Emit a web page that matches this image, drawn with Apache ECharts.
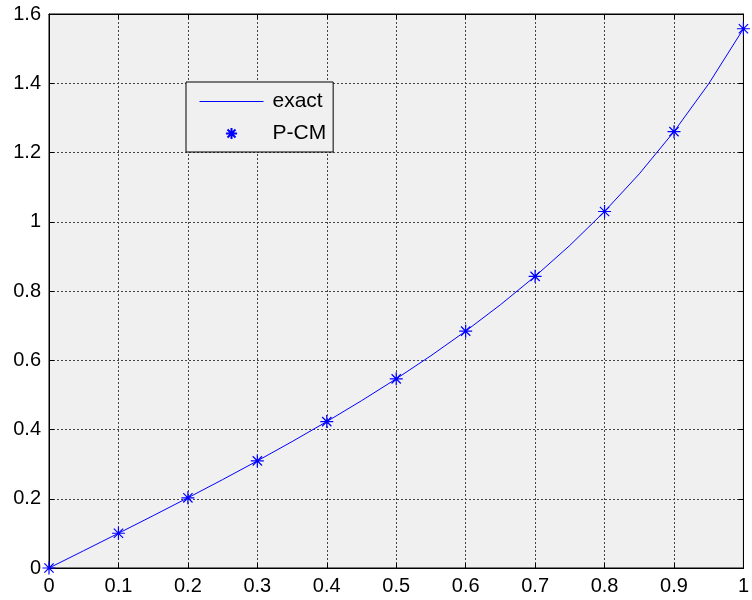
<!DOCTYPE html>
<html>
<head>
<meta charset="utf-8">
<script src="https://cdn.jsdelivr.net/npm/echarts@6/dist/echarts.min.js"></script>
<style>
  html, body { margin: 0; padding: 0; background: #fff; }
  #chart { width: 752px; height: 600px; }
</style>
</head>
<body>
<div id="chart"></div>
<script>
// curve samples (x, y)
var lineX = [0, 0.05, 0.1, 0.15, 0.2, 0.25, 0.3, 0.35, 0.4, 0.45, 0.5, 0.55, 0.6, 0.65, 0.7, 0.75, 0.8, 0.85, 0.9, 0.95, 1];
var exactY = [0, 0.0500, 0.1003, 0.1511, 0.2027, 0.2553, 0.3093, 0.3650, 0.4228, 0.4831, 0.5463, 0.6131, 0.6841, 0.7602, 0.8423, 0.9316, 1.0296, 1.1383, 1.2602, 1.3984, 1.5574];
// markers
var pcmX = [0, 0.1, 0.2, 0.3, 0.4, 0.5, 0.6, 0.7, 0.8, 0.9, 1];
var pcmY = [0, 0.1003, 0.2027, 0.3093, 0.4228, 0.5463, 0.6841, 0.8423, 1.0296, 1.2602, 1.5574];

var star = 'path://M7 0L7 14M0 7L14 7M2 2L12 12M2 12L12 2';
var font = 'Arial, "Liberation Sans", sans-serif';
var blue = '#0000ff';

var chart = echarts.init(document.getElementById('chart'));

function zip(a, b) {
    return a.map(function (v, i) { return [v, b[i]]; });
}

function lbl(v) {
    return String(Math.round(v * 10) / 10);
}

var gridLine = { show: true, lineStyle: { color: '#444', type: [2, 2], width: 1 } };
var ticks = { show: true, inside: true, length: 5, lineStyle: { color: '#000' } };
var axisLine = { show: true, onZero: false, lineStyle: { color: '#000', width: 1 } };

chart.setOption({
    animation: false,
    backgroundColor: '#fff',
    grid: {
        left: 49, right: 1, top: 14, bottom: 32,
        show: true, backgroundColor: '#f0f0f0', borderColor: '#000', borderWidth: 1
    },
    legend: {
        orient: 'vertical',
        left: 186, top: 82,
        padding: [9, 7, 8, 13],
        itemWidth: 64, itemHeight: 14, itemGap: 11,
        backgroundColor: '#f0f0f0',
        borderColor: '#000', borderWidth: 1,
        textStyle: { fontFamily: font, fontSize: 21, color: '#000', padding: [0, 0, 0, 4] },
        data: [
            // line only: hide the dot the line icon puts in its middle
            { name: 'exact', itemStyle: { opacity: 0 }, lineStyle: { width: 1, color: blue } },
            { name: 'P-CM' }
        ]
    },
    xAxis: [{
        type: 'value', min: 0, max: 1, interval: 0.1,
        axisLine: axisLine, axisTick: ticks, splitLine: gridLine,
        axisLabel: { fontFamily: font, fontSize: 20, color: '#000', margin: 8, formatter: lbl }
    }, {
        type: 'value', min: 0, max: 1, interval: 0.1, position: 'top',
        axisLine: axisLine, axisTick: ticks, splitLine: { show: false }, axisLabel: { show: false }
    }],
    yAxis: [{
        type: 'value', min: 0, max: 1.6, interval: 0.2,
        axisLine: axisLine, axisTick: ticks, splitLine: gridLine,
        axisLabel: { fontFamily: font, fontSize: 20, color: '#000', margin: 8, formatter: lbl }
    }, {
        type: 'value', min: 0, max: 1.6, interval: 0.2, position: 'right',
        axisLine: axisLine, axisTick: ticks, splitLine: { show: false }, axisLabel: { show: false }
    }],
    series: [{
        name: 'exact',
        type: 'line',
        data: zip(lineX, exactY),
        showSymbol: false,
        symbol: 'none',
        color: blue,
        lineStyle: { color: blue, width: 1 },
        itemStyle: { color: blue },
        z: 3
    }, {
        name: 'P-CM',
        type: 'line',
        data: zip(pcmX, pcmY),
        symbol: star,
        symbolSize: 13,
        color: blue,
        lineStyle: { width: 0, opacity: 0 },
        itemStyle: { color: 'none', borderColor: blue, borderWidth: 1.2 },
        z: 4
    }]
});
</script>
</body>
</html>
